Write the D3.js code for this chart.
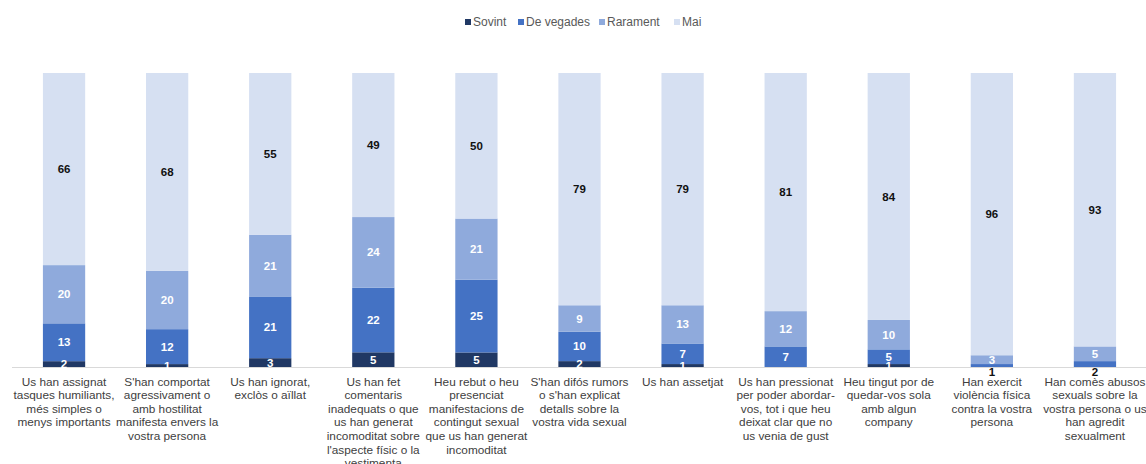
<!DOCTYPE html>
<html>
<head>
<meta charset="utf-8">
<script src="https://cdn.jsdelivr.net/npm/d3@7/dist/d3.min.js"></script>
<style>
  html, body { margin: 0; padding: 0; background: #fff; }
  svg { display: block; font-family: "Liberation Sans", Arial, sans-serif; }
</style>
</head>
<body>
<svg id="chart" width="1146" height="464"></svg>
<script>
// Frequency categories (stack order, bottom to top)
const seriesNames = ["Sovint", "De vegades", "Rarament", "Mai"];

// Each category label, already split into display lines
const categories = [
  ["Us han assignat", "tasques humiliants,", "més simples o", "menys importants"],
  ["S'han comportat", "agressivament o", "amb hostilitat", "manifesta envers la", "vostra persona"],
  ["Us han ignorat,", "exclòs o aïllat"],
  ["Us han fet", "comentaris", "inadequats o que", "us han generat", "incomoditat sobre", "l'aspecte físic o la", "vestimenta"],
  ["Heu rebut o heu", "presenciat", "manifestacions de", "contingut sexual", "que us han generat", "incomoditat"],
  ["S'han difós rumors", "o s'han explicat", "detalls sobre la", "vostra vida sexual"],
  ["Us han assetjat"],
  ["Us han pressionat", "per poder abordar-", "vos, tot i que heu", "deixat clar que no", "us venia de gust"],
  ["Heu tingut por de", "quedar-vos sola", "amb algun", "company"],
  ["Han exercit", "violència física", "contra la vostra", "persona"],
  ["Han comès abusos", "sexuals sobre la", "vostra persona o us", "han agredit", "sexualment"]
];

// Percentages per category
const sovint    = [2, 1, 3, 5, 5, 2, 1, 0, 1, 0, 0];
const deVegades = [13, 12, 21, 22, 25, 10, 7, 7, 5, 1, 2];
const rarament  = [20, 20, 21, 24, 21, 9, 13, 12, 10, 3, 5];
const mai       = [66, 68, 55, 49, 50, 79, 79, 81, 84, 96, 93];

const colors = ["#203864", "#4472C4", "#8FAADC", "#D6E0F2"];
const labelColors = ["#ffffff", "#ffffff", "#ffffff", "#111111"];

const rows = categories.map((c, i) => ({
  idx: i,
  "Sovint": sovint[i],
  "De vegades": deVegades[i],
  "Rarament": rarament[i],
  "Mai": mai[i]
}));

const svg = d3.select("#chart");
const baseY = 367, topY = 73;

const x = d3.scaleBand()
  .domain(rows.map(r => r.idx))
  .range([12.5, 1146.5])
  .paddingInner(0.59)
  .paddingOuter(0.295);

const y = d3.scaleLinear().domain([0, 1]).range([baseY, topY]);

const stacked = d3.stack()
  .keys(seriesNames)
  .offset(d3.stackOffsetExpand)(rows);

// Bars
const layers = svg.append("g").selectAll("g")
  .data(stacked)
  .join("g")
  .attr("fill", (d, i) => colors[i]);

layers.selectAll("rect")
  .data(d => d)
  .join("rect")
  .attr("x", d => x(d.data.idx))
  .attr("width", x.bandwidth())
  .attr("y", d => y(d[1]))
  .attr("height", d => Math.max(0, y(d[0]) - y(d[1])));

// Baseline
svg.append("line")
  .attr("x1", 12).attr("x2", 1146)
  .attr("y1", baseY + 0.5).attr("y2", baseY + 0.5)
  .attr("stroke", "#d9d9d9").attr("stroke-width", 1);

// Value labels
const thin = (si, v) => si === 1 && v < 3;
stacked.forEach((layer, si) => {
  svg.append("g").selectAll("text")
    .data(layer.filter(d => d.data[seriesNames[si]] > 0))
    .join("text")
    .attr("x", d => x(d.data.idx) + x.bandwidth() / 2)
    .attr("y", d => {
      const v = d.data[seriesNames[si]];
      // Very thin "De vegades" slices carry their label just under the axis
      if (thin(si, v)) return baseY + 5;
      return (y(d[0]) + y(d[1])) / 2;
    })
    .attr("dy", "0.35em")
    .attr("text-anchor", "middle")
    .attr("font-size", "11.5px")
    .attr("font-weight", "bold")
    .attr("fill", d => thin(si, d.data[seriesNames[si]]) ? "#111" : labelColors[si])
    .text(d => d.data[seriesNames[si]]);
});

// Category labels
const catG = svg.append("g")
  .attr("font-size", "11.8px")
  .attr("fill", "#404040")
  .attr("text-anchor", "middle");

catG.selectAll("text")
  .data(rows)
  .join("text")
  .attr("x", d => x(d.idx) + x.bandwidth() / 2)
  .attr("y", 385.5)
  .each(function(d) {
    d3.select(this).selectAll("tspan")
      .data(categories[d.idx])
      .join("tspan")
      .attr("x", x(d.idx) + x.bandwidth() / 2)
      .attr("dy", (t, i) => i === 0 ? 0 : 13.6)
      .text(t => t);
  });

// Legend
const legendX = [465, 518, 599, 674];
const legend = svg.append("g").attr("font-size", "12px").attr("fill", "#595959");
const items = legend.selectAll("g")
  .data(seriesNames)
  .join("g")
  .attr("transform", (d, i) => `translate(${legendX[i]},22)`);
items.append("rect")
  .attr("x", 0).attr("y", -3).attr("width", 6).attr("height", 6)
  .attr("fill", (d, i) => colors[i]);
items.append("text")
  .attr("x", 8).attr("dy", "0.35em")
  .text(d => d);
</script>
</body>
</html>
